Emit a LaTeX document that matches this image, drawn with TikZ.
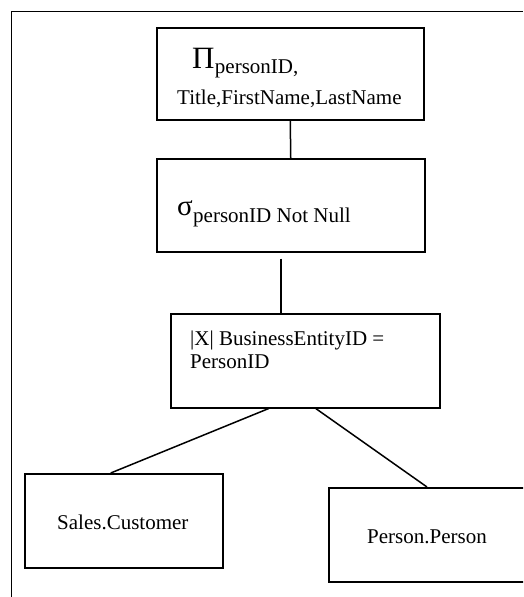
\documentclass[tikz,border=0pt]{standalone}
\usepackage{fontspec}
\setmainfont{Liberation Serif}

\tikzset{
  boite/.style={draw, line width=1.5pt, inner sep=0pt, anchor=north west},
  txt/.style={anchor=base west, inner sep=0pt, font=\fontsize{21}{23}\selectfont},
  lien/.style={line width=1.5pt},
}

\begin{document}
\begin{tikzpicture}[x=1pt, y=-1pt]
  \useasboundingbox (0,0) rectangle (523,597);
  \clip (0,0) rectangle (523,597);
  % Cadre
  \draw[line width=1.4pt] (11.5,597) -- (11.5,11.5) -- (523,11.5);
  % Boites
  \node[boite, minimum width=267pt, minimum height=92pt] (proj) at (156,27)  {};
  \node[boite, minimum width=268pt, minimum height=93pt] (sel)  at (156,158) {};
  \node[boite, minimum width=269pt, minimum height=94pt] (join) at (170,313) {};
  \node[boite, minimum width=198pt, minimum height=94pt] (cust) at (24,473)  {};
  \node[boite, minimum width=212pt, minimum height=94pt] (pers) at (328,487) {};
  % Projection
  \node[txt, font=\fontsize{31}{31}\selectfont] (pi) at (192,68) {Π};
  \node[txt, yshift=-5pt] (pisub) at (pi.base east) {personID,};
  \node[txt] (pilist) at (177,104) {Title,FirstName,LastName};
  % Selection
  \node[txt, font=\fontsize{29}{29}\selectfont] (sigma) at (177,215) {σ};
  \node[txt, yshift=-7pt] (sigsub) at (sigma.base east) {personID Not Null};
  % Jointure
  \node[txt] (joina) at (190,345) {|X| BusinessEntityID =};
  \node[txt] (joinb) at (190,368) {PersonID};
  % Tables
  \node[txt] (custtxt) at (57,529)  {Sales.Customer};
  \node[txt] (perstxt) at (367,543) {Person.Person};
  % Liens
  \coordinate (tige) at (281,0);
  \draw[lien] (proj.south) -- (sel.north);
  \draw[lien, shorten <=6pt] (sel.south -| tige) -- (join.north -| tige);
  \draw[lien] ([xshift=-36.5pt]join.south) -- ([xshift=-13pt]cust.north);
  \draw[lien] ([xshift=10.5pt]join.south) -- ([xshift=99pt]pers.north west);
\end{tikzpicture}
\end{document}
